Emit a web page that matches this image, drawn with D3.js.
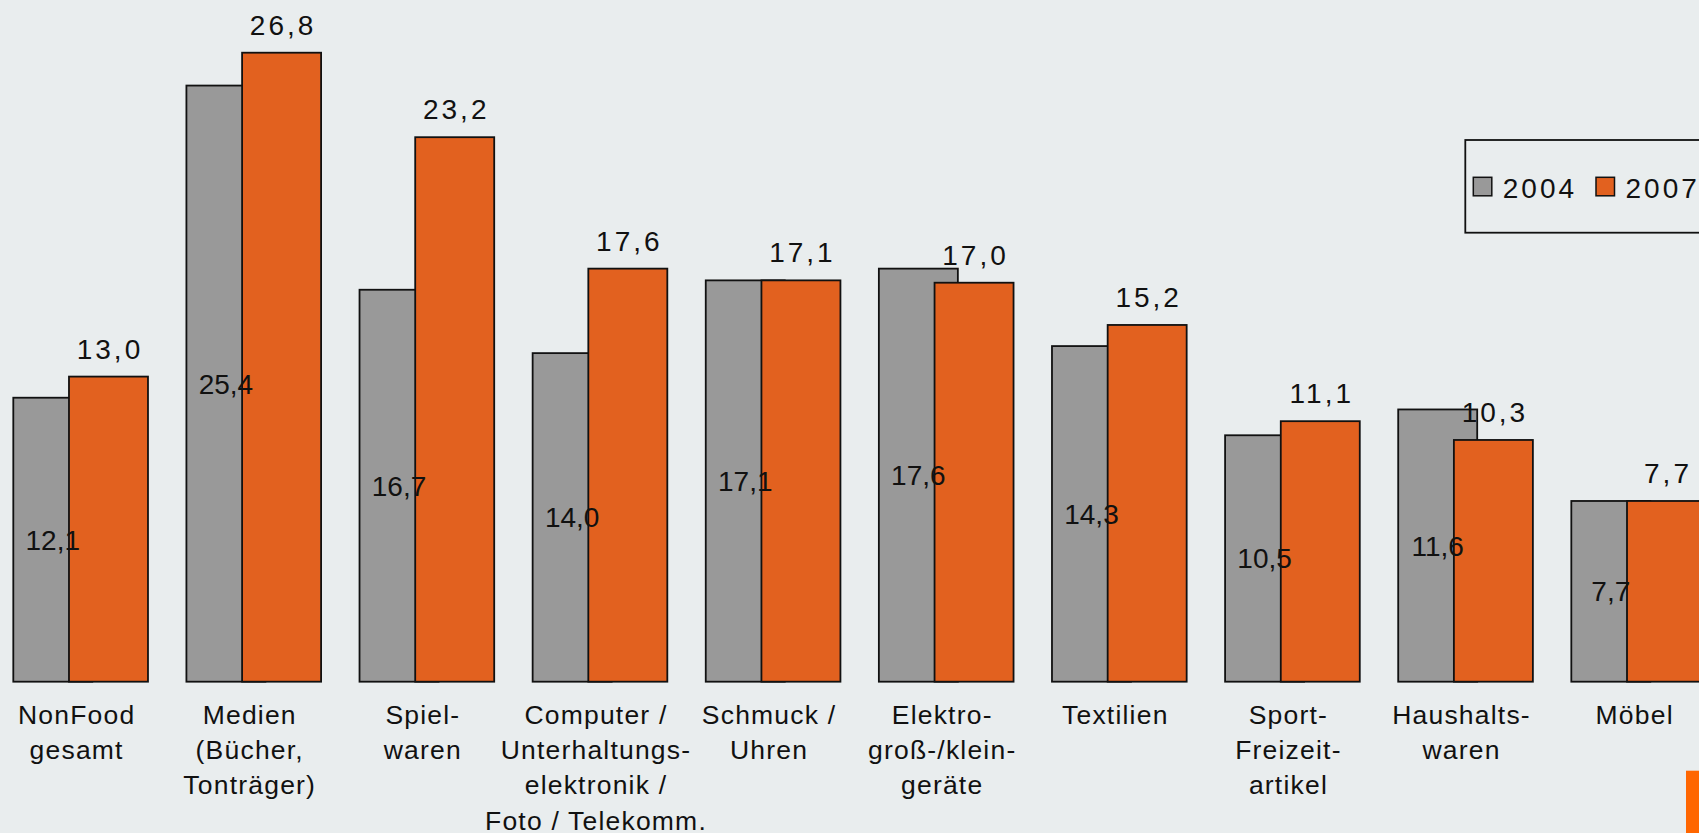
<!DOCTYPE html>
<html>
<head>
<meta charset="utf-8">
<script src="https://cdn.jsdelivr.net/npm/d3@7"></script>
<style>
  html, body { margin: 0; padding: 0; background: #e9edee; overflow: hidden; }
  svg { display: block; font-family: "Liberation Sans", Arial, sans-serif; }
</style>
</head>
<body>
<div id="chart"></div>
<script>
// categories (label lines) and values in percent
const categories = [
    ['NonFood', 'gesamt'],
    ['Medien', '(Bücher,', 'Tonträger)'],
    ['Spiel-', 'waren'],
    ['Computer /', 'Unterhaltungs-', 'elektronik /', 'Foto / Telekomm.'],
    ['Schmuck /', 'Uhren'],
    ['Elektro-', 'groß-/klein-', 'geräte'],
    ['Textilien'],
    ['Sport-', 'Freizeit-', 'artikel'],
    ['Haushalts-', 'waren'],
    ['Möbel']
];
const years = ['2004', '2007'];
const values2004 = [12.1, 25.4, 16.7, 14.0, 17.1, 17.6, 14.3, 10.5, 11.6, 7.7];
const values2007 = [13.0, 26.8, 23.2, 17.6, 17.1, 17.0, 15.2, 11.1, 10.3, 7.7];

const colors = { '2004': '#999999', '2007': '#e2611f' };

const width = 1699;
const height = 833;
const baseline = 681.7;
const barW = 79;

const locale = d3.formatLocale({ decimal: ',', thousands: '.', grouping: [3], currency: ['', ' €'] });
const fmt = locale.format('.1f');

const keys = categories.map(d => d.join(' '));
const data = keys.map((k, i) => ({ key: k, lines: categories[i], v2004: values2004[i], v2007: values2007[i] }));

const svg = d3.select('#chart').append('svg')
    .attr('width', width)
    .attr('height', height);

svg.append('rect')
    .attr('width', width)
    .attr('height', height)
    .attr('fill', '#e9edee');

const scaleX = d3.scaleBand()
    .domain(keys)
    .range([13.3, 1706])
    .paddingInner(0.222)
    .paddingOuter(0);

const scaleY = d3.scaleLinear()
    .domain([0, 30])
    .range([baseline, baseline - 30 * 23.47]);

const bw = scaleX.bandwidth();
// offset of each series inside a group (bars overlap)
const offset = { '2004': 0, '2007': bw - barW };

const plot = svg.append('g').attr('class', 'plot');

years.forEach(function(y) {
    plot.append('g')
        .attr('class', 'series-' + y)
        .selectAll('rect')
        .data(data)
        .enter().append('rect')
        .attr('x', d => scaleX(d.key) + offset[y])
        .attr('y', d => scaleY(d['v' + y]))
        .attr('width', barW)
        .attr('height', d => scaleY(0) - scaleY(d['v' + y]))
        .attr('fill', colors[y])
        .attr('stroke', '#111')
        .attr('stroke-width', 1.8);
});

// 2004 labels, centered in the grey bar
plot.append('g')
    .selectAll('text')
    .data(data)
    .enter().append('text')
    .attr('x', d => scaleX(d.key) + offset['2004'] + barW / 2)
    .attr('y', d => (scaleY(d.v2004) + scaleY(0)) / 2 + 10)
    .attr('text-anchor', 'middle')
    .attr('font-size', 28)
    .attr('fill', '#111')
    .text(d => fmt(d.v2004));

// 2007 labels, above the orange bar
plot.append('g')
    .selectAll('text')
    .data(data)
    .enter().append('text')
    .attr('x', d => scaleX(d.key) + offset['2007'] + barW / 2 + 1.5)
    .attr('y', d => scaleY(d.v2007) - 18)
    .attr('text-anchor', 'middle')
    .attr('font-size', 28)
    .attr('letter-spacing', 3)
    .attr('fill', '#111')
    .text(d => fmt(d.v2007));

// category labels
const cat = plot.append('g')
    .selectAll('text')
    .data(data)
    .enter().append('text')
    .attr('text-anchor', 'middle')
    .attr('font-size', 26.5)
    .attr('letter-spacing', 1.2)
    .attr('fill', '#111')
    .attr('y', 724);
cat.selectAll('tspan')
    .data(d => d.lines.map(l => ({ l: l, x: scaleX(d.key) + bw / 2 - 4 })))
    .enter().append('tspan')
    .attr('x', d => d.x)
    .attr('dy', (d, i) => i === 0 ? 0 : 35.2)
    .text(d => d.l);

// legend
const legend = svg.append('g').attr('class', 'legend');
legend.append('rect')
    .attr('x', 1465.3)
    .attr('y', 140)
    .attr('width', 300)
    .attr('height', 92.7)
    .attr('fill', 'none')
    .attr('stroke', '#111')
    .attr('stroke-width', 1.8);

const legendX = { '2004': 1473.3, '2007': 1596 };
years.forEach(function(y) {
    legend.append('rect')
        .attr('x', legendX[y])
        .attr('y', 177.3)
        .attr('width', 18.5)
        .attr('height', 18.5)
        .attr('fill', colors[y])
        .attr('stroke', '#111')
        .attr('stroke-width', 1.5);
    legend.append('text')
        .attr('x', legendX[y] + 29.5)
        .attr('y', 197.7)
        .attr('font-size', 28)
        .attr('letter-spacing', 3)
        .attr('fill', '#111')
        .text(y);
});

// orange corner mark
svg.append('rect')
    .attr('x', 1686)
    .attr('y', 770.7)
    .attr('width', 13)
    .attr('height', 62.3)
    .attr('fill', '#ff6600');
</script>
</body>
</html>
